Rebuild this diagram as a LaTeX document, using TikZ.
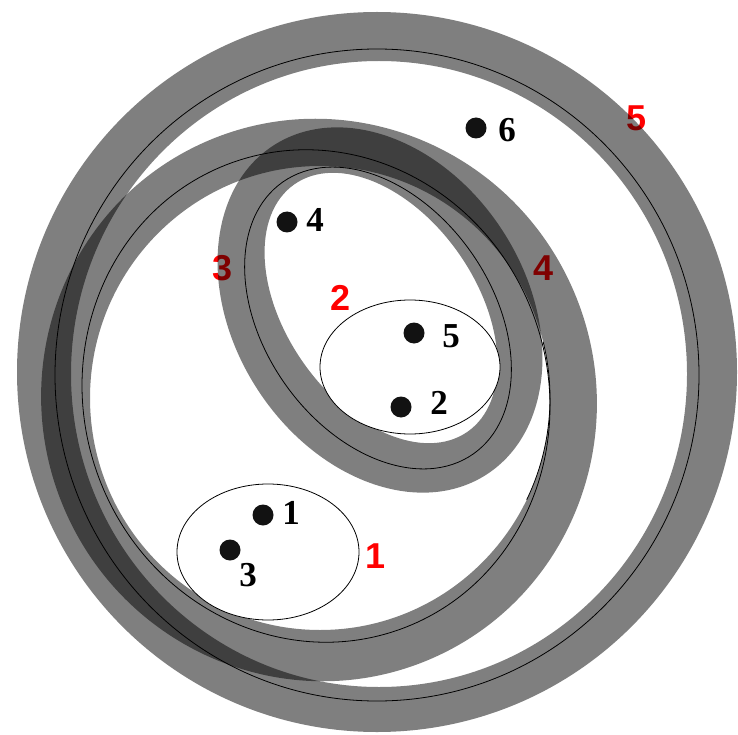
\documentclass[tikz,border=0pt]{standalone}
\usepackage{fontspec}
\setmainfont{Liberation Serif}
\newfontfamily\lblfont{Liberation Sans}
\begin{document}
\begin{tikzpicture}[x=1pt,y=-1pt,
  band/.style={fill=black, fill opacity=0.5, even odd rule},
  setline/.style={draw=black, line width=0.8pt},
  dotpt/.style={circle, fill=black!93, minimum size=21pt, inner sep=0pt},
  num/.style={font=\fontsize{35}{40}\selectfont\bfseries, inner sep=0pt},
  setlbl/.style={text=red, font=\lblfont\fontsize{36}{40}\selectfont\bfseries, inner sep=0pt}]
\useasboundingbox (0,0) rectangle (738,735);

% set labels (drawn first, bands lie over them)
\node[setlbl] (s1) at (376,556) {1};
\node[setlbl] (s2) at (341,298) {2};
\node[setlbl] (s3) at (223,268) {3};
\node[setlbl] (s4) at (544,268) {4};
\node[setlbl] (s5) at (637,118) {5};

% band of set 5 (circle)
\fill[band] (377,372) ellipse [x radius=360pt, y radius=360pt]
            (379,374) ellipse [x radius=308pt, y radius=313pt];

% band of set 4
\fill[band] (319,400) ellipse [x radius=282pt, y radius=277pt, rotate=-66]
            (320,398) ellipse [x radius=230pt, y radius=232pt];

% band of set 3
\fill[band] (380,310) ellipse [x radius=196pt, y radius=146pt, rotate=-57]
            (381,308) ellipse [x radius=151pt, y radius=95pt, rotate=-55];

% set boundaries
\draw[setline] (377,375) ellipse [x radius=322pt, y radius=326pt];
\draw[setline] (316,396) ellipse [x radius=248pt, y radius=232pt, rotate=-70];
\draw[setline] plot[domain=-14:26, samples=40] ({320+230*cos(\x)},{398+232*sin(\x)});
\draw[setline] (378,318) ellipse [x radius=166pt, y radius=114pt, rotate=-55];

% sets 1 and 2
\draw[setline, fill=white] (410,367) ellipse [x radius=90pt, y radius=67pt];
\draw[setline, fill=white] (268,552) ellipse [x radius=91pt, y radius=68pt];

% elements
\node[dotpt] (p1) at (263,515) {};
\node[dotpt] (p2) at (401,407) {};
\node[dotpt] (p3) at (230,550) {};
\node[dotpt] (p4) at (287,222) {};
\node[dotpt] (p5) at (414,333) {};
\node[dotpt] (p6) at (476,128) {};
\node[num] (n1) at (291,513) {1};
\node[num] (n2) at (439,403) {2};
\node[num] (n3) at (248,575) {3};
\node[num] (n4) at (315,220) {4};
\node[num] (n5) at (451,336) {5};
\node[num] (n6) at (507,130) {6};
\end{tikzpicture}
\end{document}
